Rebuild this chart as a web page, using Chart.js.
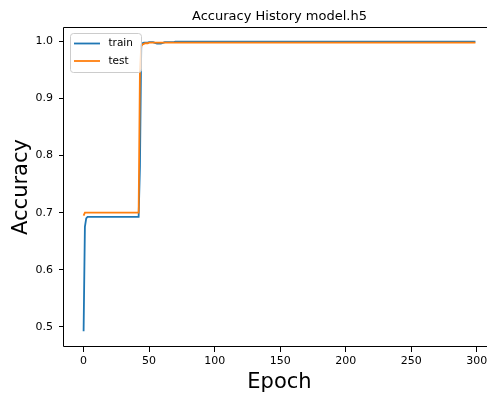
<!DOCTYPE html>
<html>
<head>
<meta charset="utf-8">
<script src="https://cdn.jsdelivr.net/npm/chart.js@4.4.0/dist/chart.umd.min.js"></script>
<style>
  html, body { margin: 0; padding: 0; background: #fff; overflow: hidden; }
  #wrap { width: 489px; height: 397px; overflow: hidden; }
  canvas { display: block; }
</style>
</head>
<body>
<div id="wrap"><canvas id="accChart" width="510" height="397"></canvas></div>
<script>
const chartTitle = 'Accuracy History model.h5';
const seriesLabels = ['train', 'test'];
const seriesColors = ['#1f77b4', '#ff7f0e'];
const xTicks = [0, 50, 100, 150, 200, 250, 300];

// accuracy per epoch (0..299)
const trainAcc = [
    0.492, 0.675, 0.690, 0.6925, 0.6925, 0.6925, 0.6925, 0.6925, 0.6925, 0.6925,
    0.6925, 0.6925, 0.6925, 0.6925, 0.6925, 0.6925, 0.6925, 0.6925, 0.6925, 0.6925,
    0.6925, 0.6925, 0.6925, 0.6925, 0.6925, 0.6925, 0.6925, 0.6925, 0.6925, 0.6925,
    0.6925, 0.6925, 0.6925, 0.6925, 0.6925, 0.6925, 0.6925, 0.6925, 0.6925, 0.6925,
    0.6925, 0.6925, 0.6925, 0.78, 0.994, 0.997, 0.998, 0.998, 0.998, 0.998,
    0.999, 0.999, 0.999, 0.999, 0.998, 0.997, 0.9965, 0.9965, 0.9965, 0.9965,
    0.997, 0.998, 0.999, 0.999, 0.999, 0.999, 0.999, 0.999, 0.999, 0.999,
    1, 1, 1, 1, 1, 1, 1, 1, 1, 1,
    1, 1, 1, 1, 1, 1, 1, 1, 1, 1,
    1, 1, 1, 1, 1, 1, 1, 1, 1, 1,
    1, 1, 1, 1, 1, 1, 1, 1, 1, 1,
    1, 1, 1, 1, 1, 1, 1, 1, 1, 1,
    1, 1, 1, 1, 1, 1, 1, 1, 1, 1,
    1, 1, 1, 1, 1, 1, 1, 1, 1, 1,
    1, 1, 1, 1, 1, 1, 1, 1, 1, 1,
    1, 1, 1, 1, 1, 1, 1, 1, 1, 1,
    1, 1, 1, 1, 1, 1, 1, 1, 1, 1,
    1, 1, 1, 1, 1, 1, 1, 1, 1, 1,
    1, 1, 1, 1, 1, 1, 1, 1, 1, 1,
    1, 1, 1, 1, 1, 1, 1, 1, 1, 1,
    1, 1, 1, 1, 1, 1, 1, 1, 1, 1,
    1, 1, 1, 1, 1, 1, 1, 1, 1, 1,
    1, 1, 1, 1, 1, 1, 1, 1, 1, 1,
    1, 1, 1, 1, 1, 1, 1, 1, 1, 1,
    1, 1, 1, 1, 1, 1, 1, 1, 1, 1,
    1, 1, 1, 1, 1, 1, 1, 1, 1, 1,
    1, 1, 1, 1, 1, 1, 1, 1, 1, 1,
    1, 1, 1, 1, 1, 1, 1, 1, 1, 1,
    1, 1, 1, 1, 1, 1, 1, 1, 1, 1,
    1, 1, 1, 1, 1, 1, 1, 1, 1, 1
];

const testAcc = [
    0.695, 0.700, 0.700, 0.700, 0.700, 0.700, 0.700, 0.700, 0.700, 0.700,
    0.700, 0.700, 0.700, 0.700, 0.700, 0.700, 0.700, 0.700, 0.700, 0.700,
    0.700, 0.700, 0.700, 0.700, 0.700, 0.700, 0.700, 0.700, 0.700, 0.700,
    0.700, 0.700, 0.700, 0.700, 0.700, 0.700, 0.700, 0.700, 0.700, 0.700,
    0.700, 0.700, 0.700, 0.95, 0.992, 0.995, 0.996, 0.997, 0.997, 0.997,
    0.998, 0.998, 0.998, 0.998, 0.998, 0.998, 0.998, 0.998, 0.998, 0.998,
    0.998, 0.998, 0.998, 0.998, 0.998, 0.998, 0.998, 0.998, 0.998, 0.998,
    0.998, 0.998, 0.998, 0.998, 0.998, 0.998, 0.998, 0.998, 0.998, 0.998,
    0.998, 0.998, 0.998, 0.998, 0.998, 0.998, 0.998, 0.998, 0.998, 0.998,
    0.998, 0.998, 0.998, 0.998, 0.998, 0.998, 0.998, 0.998, 0.998, 0.998,
    0.998, 0.998, 0.998, 0.998, 0.998, 0.998, 0.998, 0.998, 0.998, 0.998,
    0.998, 0.998, 0.998, 0.998, 0.998, 0.998, 0.998, 0.998, 0.998, 0.998,
    0.998, 0.998, 0.998, 0.998, 0.998, 0.998, 0.998, 0.998, 0.998, 0.998,
    0.998, 0.998, 0.998, 0.998, 0.998, 0.998, 0.998, 0.998, 0.998, 0.998,
    0.998, 0.998, 0.998, 0.998, 0.998, 0.998, 0.998, 0.998, 0.998, 0.998,
    0.998, 0.998, 0.998, 0.998, 0.998, 0.998, 0.998, 0.998, 0.998, 0.998,
    0.998, 0.998, 0.998, 0.998, 0.998, 0.998, 0.998, 0.998, 0.998, 0.998,
    0.998, 0.998, 0.998, 0.998, 0.998, 0.998, 0.998, 0.998, 0.998, 0.998,
    0.998, 0.998, 0.998, 0.998, 0.998, 0.998, 0.998, 0.998, 0.998, 0.998,
    0.998, 0.998, 0.998, 0.998, 0.998, 0.998, 0.998, 0.998, 0.998, 0.998,
    0.998, 0.998, 0.998, 0.998, 0.998, 0.998, 0.998, 0.998, 0.998, 0.998,
    0.998, 0.998, 0.998, 0.998, 0.998, 0.998, 0.998, 0.998, 0.998, 0.998,
    0.998, 0.998, 0.998, 0.998, 0.998, 0.998, 0.998, 0.998, 0.998, 0.998,
    0.998, 0.998, 0.998, 0.998, 0.998, 0.998, 0.998, 0.998, 0.998, 0.998,
    0.998, 0.998, 0.998, 0.998, 0.998, 0.998, 0.998, 0.998, 0.998, 0.998,
    0.998, 0.998, 0.998, 0.998, 0.998, 0.998, 0.998, 0.998, 0.998, 0.998,
    0.998, 0.998, 0.998, 0.998, 0.998, 0.998, 0.998, 0.998, 0.998, 0.998,
    0.998, 0.998, 0.998, 0.998, 0.998, 0.998, 0.998, 0.998, 0.998, 0.998,
    0.998, 0.998, 0.998, 0.998, 0.998, 0.998, 0.998, 0.998, 0.998, 0.998,
    0.998, 0.998, 0.998, 0.998, 0.998, 0.998, 0.998, 0.998, 0.998, 0.998
];

Chart.defaults.font.family = "'DejaVu Sans', sans-serif";
Chart.defaults.color = '#000';

function toPoints(values) {
    return values.map((v, i) => ({ x: i, y: v }));
}

// matplotlib-like frame, title and legend box
const mplLook = {
    id: 'mplLook',
    afterDraw(chart) {
        const ctx = chart.ctx;
        const ca = chart.chartArea;
        const l = Math.round(ca.left) - 0.5;
        const t = Math.round(ca.top) + 0.5;
        const b = Math.round(ca.bottom) - 0.5;
        const r = 487; // axes run off the right edge of the picture
        ctx.save();

        // spines: left, top, bottom
        ctx.strokeStyle = '#000';
        ctx.lineWidth = 1;
        ctx.beginPath();
        ctx.moveTo(r, t);
        ctx.lineTo(l, t);
        ctx.lineTo(l, b);
        ctx.lineTo(r, b);
        ctx.stroke();

        // title centred over the axes
        ctx.fillStyle = '#000';
        ctx.font = "13px 'DejaVu Sans'";
        ctx.textAlign = 'center';
        ctx.textBaseline = 'alphabetic';
        ctx.fillText(chartTitle, (ca.left + ca.right) / 2, 19.5);

        // legend, upper left
        const bx = ca.left + 6, by = ca.top + 6, bw = 71, bh = 39;
        ctx.beginPath();
        ctx.roundRect(bx + 0.5, by + 0.5, bw, bh, 3);
        ctx.fillStyle = 'rgba(255,255,255,0.8)';
        ctx.fill();
        ctx.strokeStyle = '#cccccc';
        ctx.stroke();

        ctx.font = "10.5px 'DejaVu Sans'";
        ctx.textAlign = 'left';
        ctx.textBaseline = 'middle';
        chart.data.datasets.forEach((ds, i) => {
            const ry = by + 10.5 + i * 17.5;
            ctx.beginPath();
            ctx.moveTo(bx + 4, ry);
            ctx.lineTo(bx + 30, ry);
            ctx.strokeStyle = ds.borderColor;
            ctx.lineWidth = 1.8;
            ctx.stroke();
            ctx.fillStyle = '#000';
            ctx.fillText(ds.label, bx + 38.5, ry);
        });
        ctx.restore();
    }
};

new Chart(document.getElementById('accChart'), {
    type: 'line',
    data: {
        datasets: [
            {
                label: seriesLabels[0],
                data: toPoints(trainAcc),
                borderColor: seriesColors[0],
                borderWidth: 1.8,
                pointRadius: 0,
                tension: 0,
                order: 1
            },
            {
                label: seriesLabels[1],
                data: toPoints(testAcc),
                borderColor: seriesColors[1],
                borderWidth: 1.8,
                pointRadius: 0,
                tension: 0,
                order: 0
            }
        ]
    },
    options: {
        responsive: false,
        animation: false,
        events: [],
        layout: { padding: { top: 27, right: 15, left: 0, bottom: 0 } },
        plugins: {
            legend: { display: false },
            tooltip: { enabled: false },
            title: { display: false }
        },
        scales: {
            x: {
                type: 'linear',
                min: -14.95,
                max: 313.95,
                afterBuildTicks: scale => { scale.ticks = xTicks.map(v => ({ value: v })); },
                ticks: { font: { size: 11 }, color: '#000', padding: 3, maxRotation: 0 },
                grid: { drawOnChartArea: false, tickLength: 5, tickColor: '#000', tickWidth: 1 },
                border: { display: false },
                title: { display: true, text: 'Epoch', font: { size: 21 }, color: '#000', padding: { top: 0, bottom: 2 } },
                afterFit: scale => { scale.height = 50; }
            },
            y: {
                min: 0.4645,
                max: 1.0255,
                ticks: {
                    stepSize: 0.1,
                    includeBounds: false,
                    font: { size: 11 },
                    color: '#000',
                    padding: 6,
                    callback: v => v.toFixed(1)
                },
                grid: { drawOnChartArea: false, tickLength: 5, tickColor: '#000', tickWidth: 1 },
                border: { display: false },
                title: { display: true, text: 'Accuracy', font: { size: 21 }, color: '#000', padding: { top: 9, bottom: 0 } },
                afterFit: scale => { scale.width = 64; }
            }
        }
    },
    plugins: [mplLook]
});
</script>
</body>
</html>
